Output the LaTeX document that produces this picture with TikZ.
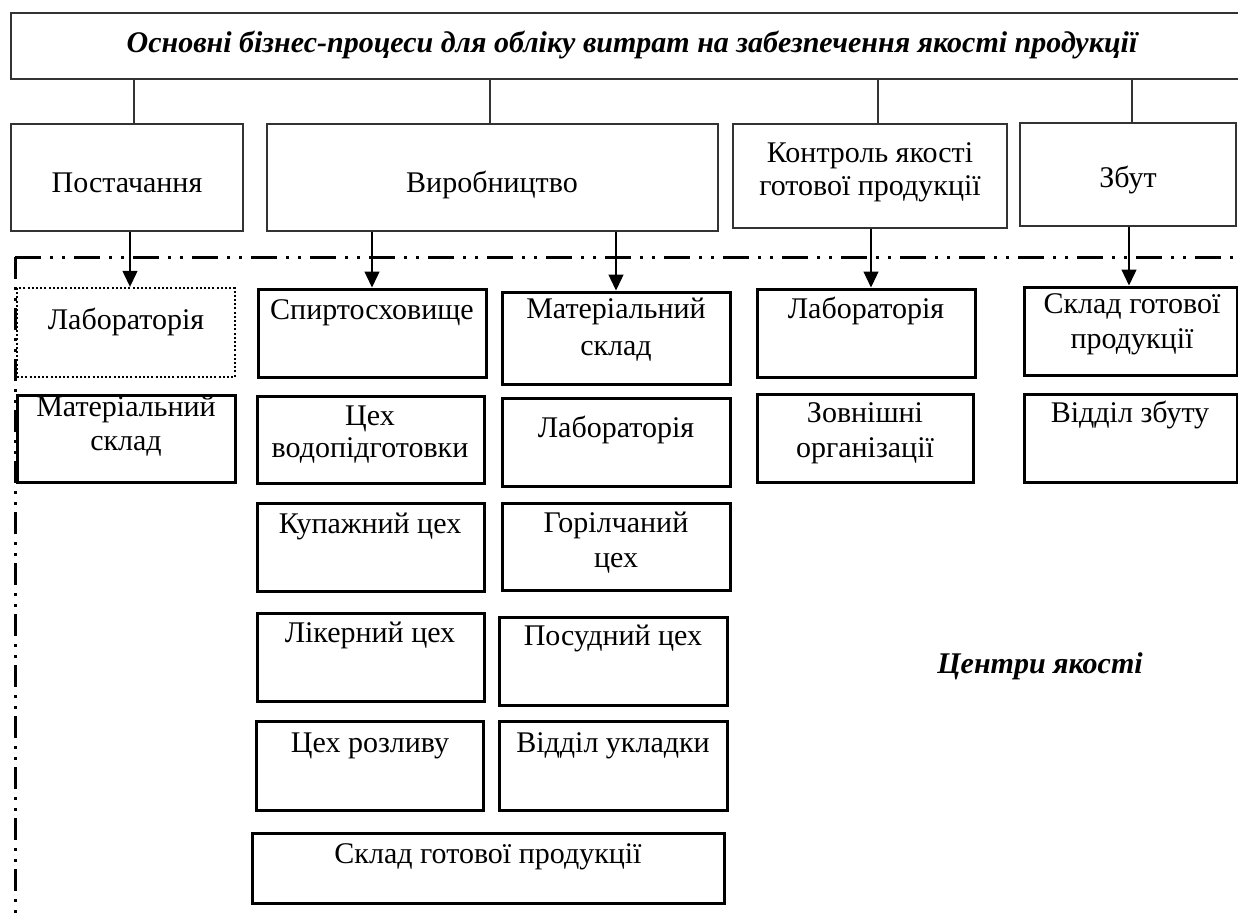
\documentclass[tikz,border=0pt]{standalone}
\usepackage{fontspec}
\setmainfont{Liberation Serif}
\usetikzlibrary{arrows.meta,fit}
\begin{document}
\begin{tikzpicture}[x=1pt,y=-1pt,
  thinline/.style={draw=black!80, line width=1.3pt},
  procbox/.style={thinline, rectangle, inner sep=0pt},
  unitbox/.style={draw=black, line width=3pt, rectangle, inner sep=0pt},
  dotbox/.style={draw=black, line width=2.4pt, rectangle, inner sep=0pt, dash pattern=on 2pt off 2.2pt},
  lbl/.style={anchor=base, inner sep=0pt, font=\fontsize{30}{34}\selectfont},
  headlbl/.style={lbl, font=\fontsize{30}{34}\selectfont\bfseries\itshape},
  arr/.style={draw=black, line width=1.3pt, -{Triangle[length=16pt,width=15pt]}},
  zoneh/.style={line width=3pt, dash pattern=on 26pt off 9pt on 3pt off 9pt on 3pt off 9pt},
  zonev/.style={line width=3pt, dash pattern=on 22pt off 8pt on 3pt off 8pt on 3pt off 7pt}
]
\path[fill=white] (0,0) rectangle (1238,916);
\useasboundingbox (0,0) rectangle (1238,916);

% title bar
\node[procbox, fit={(11,13) (1253,79)}] (title) {};
\node[headlbl] (titletxt) at (632,52) {Основні бізнес-процеси для обліку витрат на забезпечення якості продукції};

% business processes
\node[procbox, fit={(11,124) (243,231)}] (post) {};
\node[lbl] (posttxt) at (127,192) {Постачання};
\node[procbox, fit={(267,124) (718,231)}] (vyr) {};
\node[lbl] (vyrtxt) at (492,192) {Виробництво};
\node[procbox, fit={(733,124) (1007,228)}] (kontr) {};
\node[lbl] (kontrtxta) at (870,162) {Контроль якості};
\node[lbl] (kontrtxtb) at (870,195) {готової продукції};
\node[procbox, fit={(1020,123) (1236,226)}] (zbut) {};
\node[lbl] (zbuttxt) at (1128,187) {Збут};

% links from the title bar
\coordinate (k1) at (134,0);
\coordinate (k2) at (490,0);
\coordinate (k3) at (878,0);
\coordinate (k4) at (1132,0);
\draw[thinline] (title.south -| k1) -- (post.north -| k1);
\draw[thinline] (title.south -| k2) -- (vyr.north -| k2);
\draw[thinline] (title.south -| k3) -- (kontr.north -| k3);
\draw[thinline] (title.south -| k4) -- (zbut.north -| k4);

% quality centres zone
\coordinate (zonecorner) at (15,257);
\coordinate (zonebottom) at (15,920);
\coordinate (zoneright) at (1245,257);
\draw[zoneh] (zonecorner) -- (zoneright);
\draw[zonev] (zonecorner) -- (zonebottom);
\node[headlbl] (zonetxt) at (1040,673) {Центри якості};

% supply units
\node[dotbox, fit={(17,288) (235,377)}] (a1) {};
\node[lbl] (a1t) at (126,329) {Лабораторія};
\node[unitbox, fit={(17,395) (235,482)}] (a2) {};
\node[lbl] (a2ta) at (126,416) {Матеріальний};
\node[lbl] (a2tb) at (126,450) {склад};

% production units, left column
\node[unitbox, fit={(258,289) (486,377)}] (b1) {};
\node[lbl] (b1t) at (372,319) {Спиртосховище};
\node[unitbox, fit={(257,396) (484,483)}] (b2) {};
\node[lbl] (b2ta) at (370,425) {Цех};
\node[lbl] (b2tb) at (370,457) {водопідготовки};
\node[unitbox, fit={(257,503) (484,591)}] (b3) {};
\node[lbl] (b3t) at (370,533) {Купажний цех};
\node[unitbox, fit={(257,613) (484,701)}] (b4) {};
\node[lbl] (b4t) at (370,642) {Лікерний цех};
\node[unitbox, fit={(256,721) (483,810)}] (b5) {};
\node[lbl] (b5t) at (370,752) {Цех розливу};
\node[unitbox, fit={(252,833) (724,903)}] (b6) {};
\node[lbl] (b6t) at (488,863) {Склад готової продукції};

% production units, right column
\node[unitbox, fit={(502,292) (730,384)}] (c1) {};
\node[lbl] (c1ta) at (616,318) {Матеріальний};
\node[lbl] (c1tb) at (616,355) {склад};
\node[unitbox, fit={(502,398) (730,486)}] (c2) {};
\node[lbl] (c2t) at (616,437) {Лабораторія};
\node[unitbox, fit={(502,503) (730,590)}] (c3) {};
\node[lbl] (c3ta) at (616,532) {Горілчаний};
\node[lbl] (c3tb) at (616,567) {цех};
\node[unitbox, fit={(499,617) (727,705)}] (c4) {};
\node[lbl] (c4t) at (613,645) {Посудний цех};
\node[unitbox, fit={(499,721) (727,810)}] (c5) {};
\node[lbl] (c5t) at (613,752) {Відділ укладки};

% quality control units
\node[unitbox, fit={(757,289) (975,377)}] (d1) {};
\node[lbl] (d1t) at (866,318) {Лабораторія};
\node[unitbox, fit={(757,394) (973,482)}] (d2) {};
\node[lbl] (d2ta) at (865,422) {Зовнішні};
\node[lbl] (d2tb) at (865,457) {організації};

% sales units
\node[unitbox, fit={(1024,287) (1237,375)}] (e1) {};
\node[lbl] (e1ta) at (1132,313) {Склад готової};
\node[lbl] (e1tb) at (1132,348) {продукції};
\node[unitbox, fit={(1024,394) (1237,482)}] (e2) {};
\node[lbl] (e2t) at (1130,422) {Відділ збуту};

% process to unit arrows
\coordinate (p1) at (130,0);
\coordinate (p4) at (871,0);
\coordinate (p5) at (1129,0);
\draw[arr] (post.south -| p1) -- (a1.north -| p1);
\draw[arr] (vyr.south -| b1.north) -- (b1.north);
\draw[arr] (vyr.south -| c1.north) -- (c1.north);
\draw[arr] (kontr.south -| p4) -- (d1.north -| p4);
\draw[arr] (zbut.south -| p5) -- (e1.north -| p5);
\end{tikzpicture}
\end{document}
